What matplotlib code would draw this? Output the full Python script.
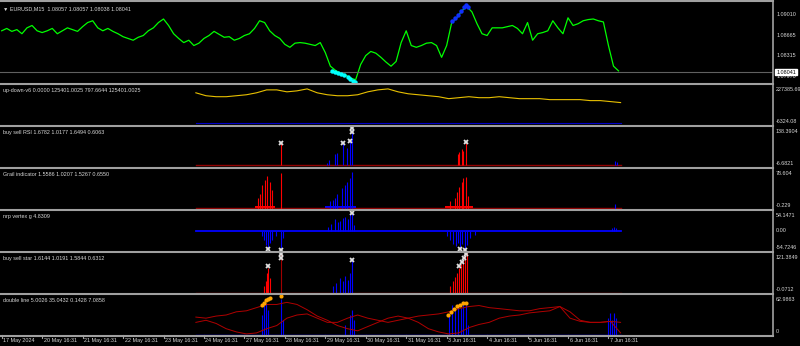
import matplotlib
matplotlib.use("Agg")
import matplotlib.pyplot as plt
from matplotlib.lines import Line2D
import matplotlib.transforms as mtransforms
import numpy as np

plt.rcParams['font.family'] = ['Liberation Sans', 'DejaVu Sans']

# time axis: trading days, 1 unit = 1 day
day_labels = ["17 May 2024", "20 May 16:31", "21 May 16:31", "22 May 16:31", "23 May 16:31",
              "24 May 16:31", "27 May 16:31", "28 May 16:31", "29 May 16:31", "30 May 16:31",
              "31 May 16:31", "3 Jun 16:31", "4 Jun 16:31", "5 Jun 16:31", "6 Jun 16:31",
              "7 Jun 16:31"]

# price (every 3 hours from the left edge)
price_step = 0.125
price = [1.0874, 1.0878, 1.0873, 1.0876, 1.0869, 1.0879, 1.0883, 1.0874, 1.0871, 1.0874,
         1.0878, 1.0869, 1.0874, 1.0879, 1.0876, 1.0873, 1.0881, 1.0888, 1.0891, 1.0879,
         1.0874, 1.0878, 1.0873, 1.0869, 1.0864, 1.0861, 1.0858, 1.0863, 1.0866, 1.0874,
         1.0879, 1.0888, 1.0894, 1.0883, 1.0869, 1.0861, 1.0854, 1.0858, 1.0849, 1.0853,
         1.0861, 1.0866, 1.0873, 1.0868, 1.0863, 1.0864, 1.0858, 1.0861, 1.0866, 1.0869,
         1.0878, 1.0891, 1.0888, 1.0874, 1.0866, 1.0861, 1.0851, 1.0846, 1.0853, 1.0854,
         1.0853, 1.0851, 1.0849, 1.0854, 1.0837, 1.0814, 1.0807, 1.0802, 1.0799, 1.0794,
         1.0791, 1.0817, 1.0832, 1.0839, 1.0836, 1.0829, 1.0821, 1.0814, 1.0822, 1.0854,
         1.0874, 1.0849, 1.0846, 1.0849, 1.0853, 1.0854, 1.0849, 1.0829, 1.0849, 1.0888,
         1.0896, 1.0908, 1.0915, 1.0906, 1.0886, 1.0869, 1.0866, 1.0879, 1.0879, 1.0879,
         1.0881, 1.0883, 1.0878, 1.0869, 1.0888, 1.0858, 1.0869, 1.0871, 1.0874, 1.0891,
         1.0879, 1.0869, 1.0896, 1.0883, 1.0886, 1.0891, 1.0893, 1.0894, 1.0891, 1.0889,
         1.0849, 1.0814, 1.0806]
bid = 1.08041
price_ticks = [1.07970, 1.08315, 1.08665, 1.09010]

cyan_x = [8.17, 8.25, 8.32, 8.40, 8.47, 8.55, 8.62, 8.69, 8.74]
cyan_p = [1.0805, 1.0804, 1.0802, 1.0800, 1.0799, 1.0795, 1.0792, 1.0789, 1.0787]
blue_x = [11.13, 11.21, 11.28, 11.35, 11.43, 11.48, 11.53]
blue_p = [1.0891, 1.0896, 1.0901, 1.0908, 1.0914, 1.0918, 1.0914]

# up-down-v6 (every 6 hours)
ud_start, ud_step = 4.8, 0.25
updown = [185450, 167470, 161480, 161480, 167470, 173470, 185450, 203430, 203430, 191450,
          197440, 209420, 185450, 173470, 167470, 167470, 173470, 191450, 203430, 209420,
          191450, 179460, 173470, 167470, 161480, 149490, 155490, 161480, 155490, 155490,
          161480, 155490, 149490, 149490, 149490, 143500, 143500, 143500, 143500, 137510,
          137510, 131520, 125400]

# buy sell RSI
rsi_red_x = [6.90, 11.28, 11.31, 11.38, 11.40, 11.48]
rsi_red_h = [78.9, 41.7, 49.1, 60.3, 52.8, 78.9]
rsi_blue_x = [8.04, 8.09, 8.24, 8.29, 8.44, 8.54, 8.61, 8.66, 15.16, 15.21]
rsi_blue_h = [8.2, 19.4, 41.7, 45.4, 78.9, 64.0, 90.0, 127.2, 15.6, 12.0]
rsi_mark_x = [6.90, 8.44, 8.61, 8.66, 8.66, 11.48]
rsi_mark_y = [78.9, 78.9, 86.3, 119.8, 134.7, 82.6]

# Grail indicator
grail_red_x = [6.34, 6.39, 6.44, 6.51, 6.56, 6.63, 6.68, 6.90,
               11.08, 11.21, 11.26, 11.31, 11.38, 11.40, 11.48, 11.53]
grail_red_h = [22.2, 30.3, 46.5, 56.6, 64.6, 52.5, 36.4, 70.7,
               16.2, 22.2, 32.3, 42.4, 52.5, 60.6, 62.6, 26.0]
grail_blue_x = [8.12, 8.19, 8.24, 8.29, 8.41, 8.49, 8.54, 8.61, 8.66, 15.16]
grail_blue_h = [16.0, 18.0, 22.2, 30.3, 40.4, 46.5, 52.5, 60.6, 72.7, 10.0]
grail_base_x = [6.25, 6.75, 8.0, 8.75, 10.95, 11.65]   # low filled humps under clusters
grail_base_h = [6.0, 6.0, 5.0, 5.0, 6.0, 6.0]

# nrp vertex g
nrp_x = [8.07, 8.14, 8.24, 8.31, 8.36, 8.44, 8.49, 8.56, 8.61, 8.66, 8.71,
         6.44, 6.49, 6.53, 6.58, 6.63, 6.68, 6.78, 6.90, 6.95,
         11.01, 11.08, 11.16, 11.23, 11.28, 11.33, 11.38, 11.45, 11.50, 11.58, 11.70,
         15.09, 15.14, 15.19]
nrp_h = [9.5, 18.0, 32.0, 23.0, 26.0, 35.0, 38.0, 32.0, 46.0, 49.0, 15.0,
         -13.0, -24.0, -38.0, -47.0, -33.0, -24.0, -13.0, -47.0, -19.0,
         -13.0, -24.0, -35.0, -41.0, -33.0, -47.0, -35.0, -50.0, -38.0, -19.0, -10.0,
         9.0, 10.0, 9.0]
nrp_mark_x = [8.66, 6.58, 6.90, 11.33, 11.45]
nrp_mark_y = [49.0, -50.0, -52.0, -50.0, -52.0]

# buy sell star
star_red_x = [6.49, 6.53, 6.56, 6.58, 6.63, 11.08, 11.16, 11.21, 11.26, 11.31, 11.36, 11.40, 11.45, 11.50]
star_red_h = [22.0, 37.0, 62.0, 75.0, 44.0, 22.0, 37.0, 50.0, 62.0, 75.0, 87.0, 100.0, 115.0, 121.0]
star_dark_x = [6.90]
star_dark_h = [121.0]
star_blue_x = [8.19, 8.27, 8.36, 8.44, 8.49, 8.56, 8.61, 8.66]
star_blue_h = [22.0, 31.0, 44.0, 37.0, 53.0, 40.0, 62.0, 103.0]
star_mark_x = [6.58, 6.90, 6.90, 8.66, 11.31, 11.38, 11.43, 11.48]
star_mark_y = [81.0, 119.0, 106.0, 100.0, 81.0, 93.0, 106.0, 119.0]

# double line
dl_start, dl_step = 4.8, 0.25
dl_a = [28.2, 26.5, 29.8, 31.5, 36.5, 38.1, 43.1, 48.1, 48.1, 51.4, 48.1, 39.8, 29.8, 23.2,
        14.9, 9.9, 6.6, 13.3, 19.9, 26.5, 29.8, 26.5, 19.9, 9.9, 4.9, 1.7, 3.3, 11.6, 16.6, 19.9,
        26.5, 29.8, 31.5, 34.8, 36.5, 38.1, 44.8, 36.5, 23.2, 19.9, 19.9, 21.5, 19.9]
dl_b = [19.9, 23.2, 18.2, 9.9, 4.9, 1.7, 3.3, 9.9, 14.9, 26.5, 31.5, 33.2, 26.5, 19.9,
        19.9, 26.5, 31.5, 26.5, 23.2, 19.9, 23.2, 26.5, 29.8, 31.5, 33.2, 36.5, 41.5, 44.8, 46.4, 43.1,
        41.5, 39.8, 38.1, 38.1, 41.5, 43.1, 44.8, 26.5, 21.5, 19.9, 19.9, 21.5, 3.3]
dl_blue_x = [6.44, 6.49, 6.53, 6.58, 6.90, 6.95, 8.49, 8.61, 8.66, 8.71,
             11.06, 11.13, 11.21, 11.28, 11.36, 11.40, 11.48, 11.53,
             14.99, 15.04, 15.09, 15.14, 15.19]
dl_blue_h = [31.5, 48.0, 51.0, 40.0, 56.0, 23.0, 15.0, 31.5, 40.0, 23.0,
             31.5, 48.0, 40.0, 46.0, 43.0, 51.0, 48.0, 15.0,
             26.5, 35.0, 23.0, 35.0, 26.5]
dl_dot_x = [6.44, 6.49, 6.53, 6.58, 6.63, 6.90, 11.03, 11.11, 11.18, 11.26, 11.33, 11.40, 11.48]
dl_dot_y = [48.0, 51.0, 55.0, 56.0, 58.0, 61.0, 31.5, 36.5, 41.5, 45.0, 48.0, 50.0, 51.0]

# ---------------------------------------------------------------- layout
W, H = 800, 346
RIGHT = 773
fig = plt.figure(figsize=(W / 100, H / 100), dpi=100, facecolor="black")
x0, x1 = -1.7 / 40.45, (RIGHT - 1.7) / 40.45
fg = "#d8d8d8"
sep = "#a0a0a0"
small = 3.9


def panel(top, bottom, ylim):
    ax = fig.add_axes([0, 1 - bottom / H, RIGHT / W, (bottom - top) / H])
    ax.set_facecolor("black")
    ax.set_xlim(x0, x1)
    ax.set_ylim(*ylim)
    for s in ax.spines.values():
        s.set_visible(False)
    ax.set_xticks([])
    ax.set_yticks([])
    return ax


def title(ax, txt):
    ax.text(0.004, 0.93, txt, transform=ax.transAxes, color=fg, fontsize=small, va="top")


def rlabels(ax, top_txt, bot_txt, mid=None):
    ax.text(1.003, 0.96, top_txt, transform=ax.transAxes, color=fg, fontsize=small, va="top", clip_on=False)
    ax.text(1.003, 0.02, bot_txt, transform=ax.transAxes, color=fg, fontsize=small, va="bottom", clip_on=False)
    if mid is not None:
        tr = mtransforms.blended_transform_factory(ax.transAxes, ax.transData)
        ax.text(1.003, mid[0], mid[1], transform=tr, color=fg, fontsize=small, va="center", clip_on=False)


def bars(ax, xs, hs, color, lw=0.8):
    ax.vlines(xs, 0, hs, colors=color, lw=lw)


# main price panel
ax = panel(1, 83, (1.07855, 1.09245))
px = np.arange(len(price)) * price_step
ax.plot(px, price, color="#00ff00", lw=0.9)
ax.axhline(bid, color="#606060", lw=0.8)
ax.plot(cyan_x, cyan_p, "o", color="#00ffff", ms=3.2, mew=0)
ax.plot(blue_x, blue_p, "o", color="#1030ff", ms=3.2, mew=0)
title(ax, "\u25bc EURUSD,M15  1.08057 1.08057 1.08038 1.08041")
tr = mtransforms.blended_transform_factory(ax.transAxes, ax.transData)
for v in price_ticks:
    ax.text(1.004, v, "%.5f" % v, transform=tr, color=fg, fontsize=small, va="center", clip_on=False)
ax.text(1.004, bid, "%.5f" % bid, transform=tr, color="black", fontsize=small, va="center", clip_on=False,
        bbox=dict(boxstyle="square,pad=0.15", fc="white", ec="white"))

# up-down-v6
ax = panel(85, 125, (-12317, 233400))
ux = ud_start + np.arange(len(updown)) * ud_step
ax.plot(ux, updown, color="#e8c000", lw=0.8)
ax.plot([ux[0], ux[-1]], [0, 0], color="#0000c8", lw=0.8)
title(ax, "up-down-v6 0.0000 125401.0025 797.6644 125401.0025")
rlabels(ax, "227385.69", "-6324.08")

# buy sell RSI
ax = panel(127, 167, (-6.68, 138.39))
ax.plot([4.8, 15.3], [1, 1], color="#900000", lw=1.0)
bars(ax, rsi_red_x, rsi_red_h, "#ff0000")
bars(ax, rsi_blue_x, rsi_blue_h, "#0000ff")
ax.plot(rsi_mark_x, rsi_mark_y, "x", color="#e0e0e0", ms=3.5, mew=1.3)
title(ax, "buy sell RSI 1.6782 1.0177 1.6494 0.6063")
rlabels(ax, "138.3904", "-6.6821")

# Grail indicator
ax = panel(169, 209, (-0.229, 78.604))
ax.plot([4.8, 15.3], [0.8, 0.8], color="#900000", lw=1.0)
ax.fill_between(grail_base_x[0:2], 0, grail_base_h[0:2], color="#ff0000", lw=0)
ax.fill_between(grail_base_x[2:4], 0, grail_base_h[2:4], color="#0000ff", lw=0)
ax.fill_between(grail_base_x[4:6], 0, grail_base_h[4:6], color="#ff0000", lw=0)
bars(ax, grail_red_x, grail_red_h, "#ff0000")
bars(ax, grail_blue_x, grail_blue_h, "#0000ff")
title(ax, "Grail indicator 1.5586 1.0207 1.5267 0.6550")
rlabels(ax, "78.604", "-0.229")

# nrp vertex g
ax = panel(211, 251, (-54.7246, 54.1471))
ax.plot([4.8, 15.3], [0, 0], color="#0000ff", lw=1.3)
bars(ax, nrp_x, nrp_h, "#0000ff")
ax.plot(nrp_mark_x, nrp_mark_y, "x", color="#e0e0e0", ms=3.5, mew=1.3)
title(ax, "nrp vertex g 4.8309")
rlabels(ax, "54.1471", "-54.7246", (0, "0.00"))

# buy sell star
ax = panel(253, 293, (-0.0712, 121.3849))
ax.plot([4.8, 15.3], [1, 1], color="#900000", lw=1.0)
bars(ax, star_red_x, star_red_h, "#ff0000")
bars(ax, star_dark_x, star_dark_h, "#a00000")
bars(ax, star_blue_x, star_blue_h, "#0000ff")
ax.plot(star_mark_x, star_mark_y, "x", color="#e0e0e0", ms=3.5, mew=1.3)
title(ax, "buy sell star 1.6144 1.0191 1.5844 0.6312")
rlabels(ax, "121.3849", "-0.0712")

# double line
ax = panel(295, 335, (0, 62.9863))
lx = dl_start + np.arange(len(dl_a)) * dl_step
ax.plot([4.8, 15.3], [0.5, 0.5], color="#0000ff", lw=1.0)
bars(ax, dl_blue_x, dl_blue_h, "#0000ff")
ax.plot(lx, dl_a, color="#b00000", lw=0.7)
ax.plot(lx, dl_b, color="#b00000", lw=0.7)
ax.plot(dl_dot_x, dl_dot_y, "o", color="#ffa500", ms=3, mew=0)
title(ax, "double line 5.0026 35.0432 0.1428 7.0858")
rlabels(ax, "62.9863", "0")

# time axis
for i, lab in enumerate(day_labels):
    xf = (1.7 + 40.45 * i) / W
    fig.add_artist(Line2D([xf, xf], [1 - 335 / H, 1 - 338 / H], color=sep, lw=0.8))
    fig.text(xf + 1.5 / W, 1 - 340.5 / H, lab, color=fg, fontsize=small, va="center")

# separators and frame
for y in [0.5, 83.5, 125.5, 167.5, 209.5, 251.5, 293.5, 335.5]:
    fig.add_artist(Line2D([0, RIGHT / W], [1 - y / H, 1 - y / H], color=sep, lw=1.5))
fig.add_artist(Line2D([RIGHT / W, RIGHT / W], [1, 1 - 335.5 / H], color=sep, lw=1.2))

fig.savefig("out.png", dpi=100, facecolor="black")
